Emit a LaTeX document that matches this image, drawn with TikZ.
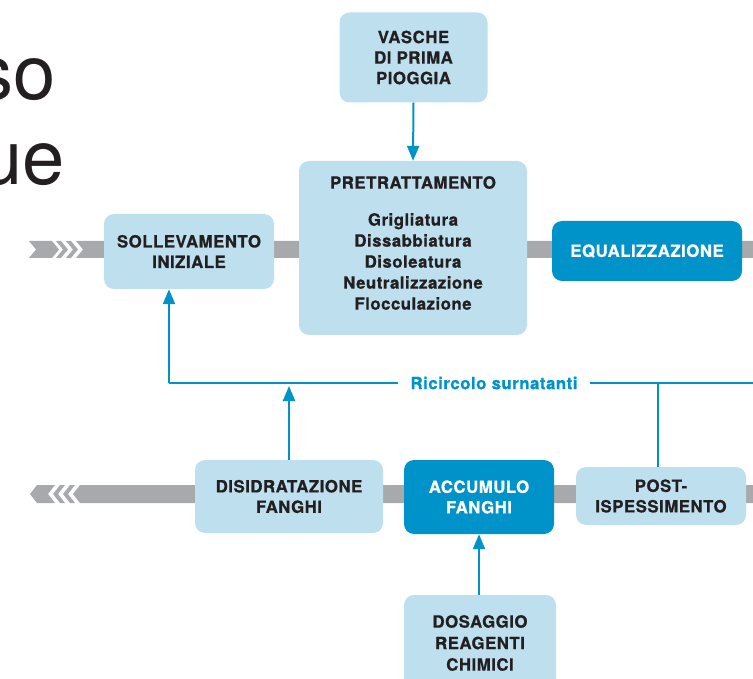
\documentclass[tikz,border=0pt]{standalone}
\usepackage{fontspec}
\setmainfont{TeX Gyre Heros}
\newfontfamily\boxfont{TeX Gyre Heros}[LetterSpace=3, BoldFeatures={FakeBold=0.8}]
\usetikzlibrary{arrows.meta}
\definecolor{lb}{HTML}{BEE0EE}
\definecolor{db}{HTML}{0093C9}
\definecolor{gb}{HTML}{A7A9AC}
\definecolor{tx}{HTML}{231F20}
\begin{document}
\begin{tikzpicture}[x=1pt,y=-1pt,
 box/.style={fill=lb, rounded corners=10pt, align=center, text=tx,
   font=\boxfont\bfseries\fontsize{16.8}{20.5}\selectfont, inner sep=0pt},
 dbox/.style={box, fill=db, text=white},
 arr/.style={draw=db, line width=2pt, -{Triangle[width=12pt,length=15pt]}},
 ln/.style={draw=db, line width=2pt},
 band/.style={fill=gb},
 title/.style={inner sep=0pt, text=tx, font=\fontsize{76}{80}\selectfont}]
\useasboundingbox (0,0) rectangle (753,679);
% title fragments
\node[title, anchor=base east] (t1) at (56,100) {so};
\node[title, anchor=base east] (t2) at (65,185) {ue};
% upper band
\fill[band] (29,241) -- (52,241) -- (59,249.5) -- (52,258) -- (29,258) -- (36,249.5) -- cycle;
\fill[band] (56,241) -- (61,241) -- (68,249.5) -- (61,258) -- (56,258) -- (63,249.5) -- cycle;
\fill[band] (66,241) -- (71,241) -- (78,249.5) -- (71,258) -- (66,258) -- (73,249.5) -- cycle;
\fill[band] (76,241) -- (753,241) -- (753,258) -- (76,258) -- (83,249.5) -- cycle;
% lower band
\fill[band] (30,494) -- (37,485) -- (55,485) -- (48,494) -- (55,503) -- (37,503) -- cycle;
\fill[band] (53,494) -- (60,485) -- (65,485) -- (58,494) -- (65,503) -- (60,503) -- cycle;
\fill[band] (63,494) -- (70,485) -- (75,485) -- (68,494) -- (75,503) -- (70,503) -- cycle;
\fill[band] (73,494) -- (80,485) -- (753,485) -- (753,503) -- (80,503) -- cycle;
% boxes
\node[box, minimum width=148pt, minimum height=90pt] (vas) at (413.5,57.5) {VASCHE\\DI PRIMA\\PIOGGIA};
\node[box, minimum width=228pt, minimum height=174pt] (pre) at (413,248) {};
\node[align=center, text=tx, inner sep=0pt, font=\boxfont\bfseries\fontsize{16.8}{21}\selectfont] (pretext) at (413,243)
  {PRETRATTAMENTO\\[16pt]Grigliatura\\Dissabbiatura\\Disoleatura\\Neutralizzazione\\Flocculazione};
\node[box, minimum width=170pt, minimum height=75pt] (sol) at (189,251.5) {SOLLEVAMENTO\\INIZIALE};
\node[dbox, minimum width=190pt, minimum height=60pt] (equ) at (647,251) {EQUALIZZAZIONE};
\node[box, minimum width=188pt, minimum height=73pt] (dis) at (289,496.5) {DISIDRATAZIONE\\FANGHI};
\node[dbox, minimum width=150pt, minimum height=74pt] (acc) at (479,497) {ACCUMULO\\FANGHI};
\node[box, minimum width=170pt, minimum height=58pt] (pos) at (661,496) {POST-\\ISPESSIMENTO};
\node[box, minimum width=152pt, minimum height=110pt] (dos) at (480,650) {};
\node[align=center, text=tx, inner sep=0pt, font=\boxfont\bfseries\fontsize{16.8}{21.5}\selectfont] (dostext) at (480,643) {DOSAGGIO\\REAGENTI\\CHIMICI};
% connectors
\draw[arr] (vas.south) -- (pre.north);
\node[text=db, inner xsep=12pt, inner ysep=0pt, font=\boxfont\bfseries\fontsize{16.8}{18}\selectfont] (ric) at (494,383) {Ricircolo surnatanti};
\coordinate (cl) at (169,383);
\coordinate (cr) at (753,383);
\coordinate (cj) at (658,383);
\coordinate (cd) at (289,386);
\draw[ln] (ric.west) -- (cl);
\draw[arr] (cl) -- (sol.south -| cl);
\draw[ln] (ric.east) -- (cr);
\draw[ln] (cj) -- (pos.north -| cj);
\draw[arr] (dis.north) -- (cd);
\draw[arr] (dos.north -| acc.south) -- (acc.south);
\end{tikzpicture}
\end{document}
